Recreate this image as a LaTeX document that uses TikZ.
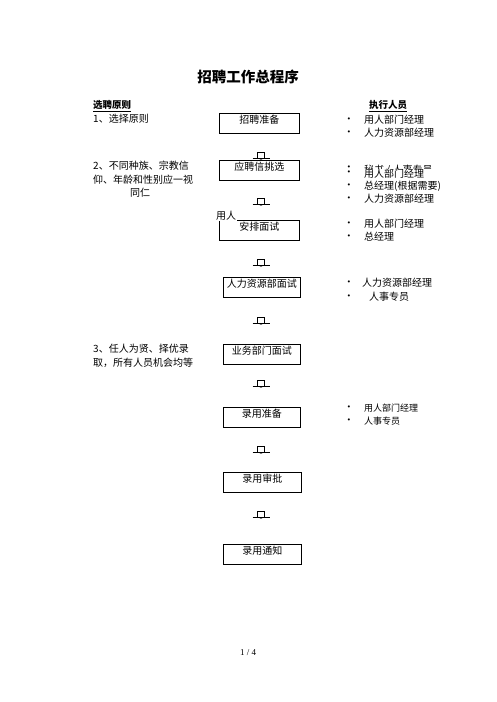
\documentclass[tikz,border=0pt]{standalone}
\usepackage{fontspec}
\setmainfont{Liberation Serif}
\newfontfamily\cjk{Noto Sans CJK SC}
\newfontfamily\bulfont{DejaVu Sans}
\begin{document}
\begin{tikzpicture}[x=1pt,y=-1pt,
  font=\cjk\fontsize{10}{12}\selectfont,
  box/.style={draw, line width=0.8pt, minimum width=80pt, minimum height=20pt, anchor=north west, inner sep=0pt},
  boxtext/.style={anchor=north, inner sep=0pt, yshift=-2pt},
  txt/.style={anchor=west, inner sep=0pt},
  bul/.style={inner sep=0pt, font=\bulfont\fontsize{7}{7}\selectfont},
  hdr/.style={anchor=west, inner sep=0pt, font=\cjk\bfseries\fontsize{9.5}{10}\selectfont},
  blockarrow/.pic={
    \draw[line width=0.6pt] (-3.5,-6) rectangle (3.5,0);
    \draw[line width=0.6pt] (-8.5,0) -- (8.5,0);
    \fill (-4,0) -- (0,1.6) -- (4,0) -- cycle;
  }]
\useasboundingbox (0,0) rectangle (496,702);

% title
\node[font=\cjk\bfseries\fontsize{14.5}{15}\selectfont, inner sep=0pt] (title) at (248,77) {招聘工作总程序};

% headers
\node[hdr] (lh) at (93,106) {\underline{选聘原则}};
\node[hdr] (rh) at (369,106) {\underline{执行人员}};

% left column
\node[txt] (l1) at (93,119) {1、选择原则};
\node[txt] (l2a) at (93,166) {2、不同种族、宗教信};
\node[txt] (l2b) at (93,180) {仰、年龄和性别应一视};
\node[inner sep=0pt] (l2c) at (140,193) {同仁};
\node[txt] (l3a) at (93,349) {3、任人为贤、择优录};
\node[txt] (l3b) at (93,363) {取，所有人员机会均等};

% boxes
\node[box] (b1) at (219,113) {};
\node[boxtext] (t1) at (b1.north) {招聘准备};
\node[box] (b2) at (219,160) {};
\node[boxtext] (t2) at (b2.north) {应聘信挑选};
\node[box] (b3) at (219,220) {};
\node[boxtext] (t3) at (b3.north) {安排面试};
\node[inner sep=0.5pt, fill=white] (yr) at (226,216) {用人};
\node[box, minimum width=77pt] (b4) at (223,277) {};
\node[boxtext] (t4) at (b4.north) {人力资源部面试};
\node[box, minimum width=77pt] (b5) at (223,344) {};
\node[boxtext] (t5) at (b5.north) {业务部门面试};
\node[box, minimum width=77pt] (b6) at (223,407) {};
\node[boxtext] (t6) at (b6.north) {录用准备};
\node[box, minimum width=78pt] (b7) at (223,472) {};
\node[boxtext] (t7) at (b7.north) {录用审批};
\node[box, minimum width=78pt] (b8) at (223,544) {};
\node[boxtext] (t8) at (b8.north) {录用通知};

% block arrows
\pic at (261,158) {blockarrow};
\pic at (261,204) {blockarrow};
\pic at (261,265) {blockarrow};
\pic at (261,323) {blockarrow};
\pic at (261,386) {blockarrow};
\pic at (261,452) {blockarrow};
\pic at (261,517) {blockarrow};

% right column
\node[bul] (p1) at (349,120) {•};
\node[txt] (r1) at (364,120) {用人部门经理};
\node[bul] (p2) at (349,133) {•};
\node[txt] (r2) at (364,133) {人力资源部经理};

\begin{scope}
  \clip (330,150) rectangle (460,168.6);
  \node[bul] (p0) at (349,167.5) {•};
  \node[txt] (r0) at (364,170.5) {秘书 / 人事专员};
\end{scope}
\node[bul] (p3) at (349,173) {•};
\node[txt] (r3) at (364,174) {用人部门经理};
\node[bul] (p4) at (349,186) {•};
\node[txt] (r4) at (364,186) {总经理(根据需要)};
\node[bul] (p5) at (349,198.5) {•};
\node[txt] (r5) at (364,198.5) {人力资源部经理};

\node[bul] (p6) at (349,224) {•};
\node[txt] (r6) at (364,224) {用人部门经理};
\node[bul] (p7) at (349,237) {•};
\node[txt] (r7) at (364,237) {总经理};

\node[bul] (p8) at (349,283) {•};
\node[txt] (r8) at (362,283) {人力资源部经理};
\node[bul] (p9) at (349,297) {•};
\node[txt] (r9) at (369,297) {人事专员};

\node[bul] (p10) at (349,408) {•};
\node[txt, font=\cjk\fontsize{9}{10}\selectfont] (r10) at (364,408) {用人部门经理};
\node[bul] (p11) at (349,421) {•};
\node[txt, font=\cjk\fontsize{9}{10}\selectfont] (r11) at (364,421) {人事专员};

% page number
\node[inner sep=0pt, font=\rmfamily\fontsize{9}{10}\selectfont] (pg) at (248,653) {1 / 4};
\end{tikzpicture}
\end{document}
